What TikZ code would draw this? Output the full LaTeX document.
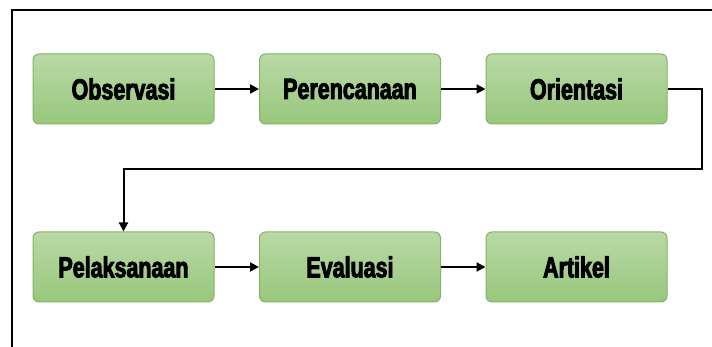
\documentclass[tikz,border=0pt]{standalone}
\usepackage{fontspec}
\setmainfont{Liberation Sans}[FakeStretch=0.74,BoldFeatures={FakeBold=3}]
\usetikzlibrary{arrows.meta}
\definecolor{boxtop}{HTML}{B9D9A6}
\definecolor{boxbot}{HTML}{98C77C}
\definecolor{boxline}{HTML}{82B366}
\tikzset{
  stage/.style={draw=boxline, line width=1pt, rounded corners=6pt,
    top color=boxtop, bottom color=boxbot,
    minimum width=181pt, minimum height=70pt, inner sep=0pt,
    font=\fontsize{29}{32}\selectfont\bfseries},
  flow/.style={line width=2pt, -{Triangle[length=9pt,width=9pt]}},
}
\begin{document}
\begin{tikzpicture}[x=1pt,y=-1pt]
  \useasboundingbox (0,0) rectangle (712,347);
  % open frame: top and left edges only
  \draw[line width=2pt] (12,360) -- (12,10.5) -- (720,10.5);
  % first row
  \node[stage] (obs) at (123.5,89) {Observasi};
  \node[stage] (per) at (350,89) {Perencanaan};
  \node[stage] (ori) at (576.5,89) {Orientasi};
  % second row
  \node[stage] (pel) at (123.5,267) {Pelaksanaan};
  \node[stage] (eva) at (350,267) {Evaluasi};
  \node[stage] (art) at (576.5,267) {Artikel};
  % connectors
  \draw[flow] (obs) -- (per);
  \draw[flow] (per) -- (ori);
  \coordinate (r1) at (702,89);
  \coordinate (r2) at (702,169);
  \coordinate (r3) at (123.5,169);
  \draw[flow] (ori.east) -- (r1) -- (r2) -- (r3) -- (pel.north);
  \draw[flow] (pel) -- (eva);
  \draw[flow] (eva) -- (art);
\end{tikzpicture}
\end{document}
